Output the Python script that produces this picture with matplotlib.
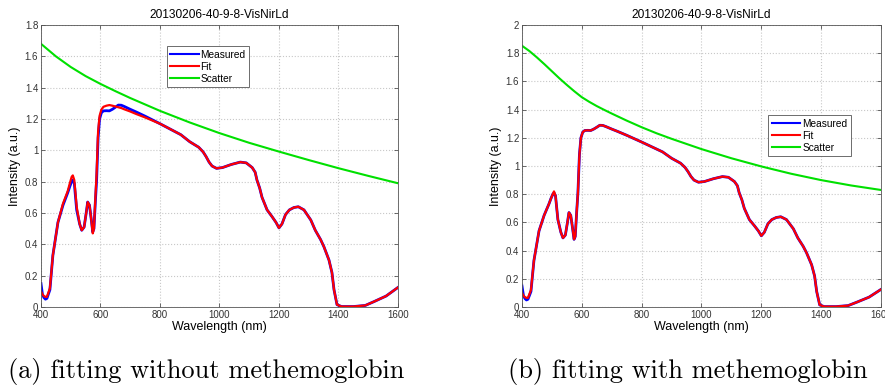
import numpy as np
import matplotlib.pyplot as plt
from matplotlib.ticker import FuncFormatter, MultipleLocator

# Measured spectrum (same sample in both panels)
wl = [400, 405, 410, 415, 420, 430, 440, 457, 474, 490, 497, 503, 507, 512,
      520, 530, 537, 545, 552, 557, 563, 569, 574, 578, 583, 587, 592, 597,
      603, 610, 620, 630, 640, 650, 660, 670, 680, 700, 720, 750, 800, 850,
      870, 900, 930, 945, 955, 965, 975, 990, 1010, 1040, 1070, 1090, 1110,
      1120, 1126, 1135, 1143, 1160, 1177, 1190, 1200, 1210, 1222, 1235, 1250,
      1265, 1284, 1307, 1322, 1340, 1351, 1368, 1378, 1385, 1395, 1410, 1450,
      1490, 1520, 1560, 1600]
measured = [0.15, 0.08, 0.06, 0.05, 0.055, 0.11, 0.33, 0.54, 0.65, 0.73, 0.77,
            0.80, 0.81, 0.79, 0.62, 0.53, 0.49, 0.51, 0.60, 0.67, 0.65, 0.56,
            0.48, 0.50, 0.68, 0.81, 1.08, 1.20, 1.24, 1.252, 1.253, 1.252,
            1.262, 1.275, 1.289, 1.288, 1.28, 1.262, 1.245, 1.218, 1.17, 1.12,
            1.10, 1.055, 1.02, 0.99, 0.96, 0.925, 0.90, 0.885, 0.89, 0.91,
            0.925, 0.92, 0.89, 0.86, 0.81, 0.76, 0.70, 0.62, 0.576, 0.54,
            0.505, 0.53, 0.59, 0.62, 0.635, 0.64, 0.62, 0.555, 0.49, 0.43,
            0.385, 0.30, 0.22, 0.11, 0.015, 0.003, 0.003, 0.01, 0.035, 0.07,
            0.125]

# Fit without methemoglobin
fit_a = [0.10, 0.08, 0.07, 0.065, 0.065, 0.12, 0.33, 0.54, 0.66, 0.74, 0.79,
         0.83, 0.84, 0.81, 0.64, 0.53, 0.49, 0.51, 0.60, 0.67, 0.65, 0.56,
         0.47, 0.50, 0.70, 0.85, 1.12, 1.22, 1.26, 1.278, 1.285, 1.289,
         1.285, 1.28, 1.275, 1.27, 1.262, 1.248, 1.232, 1.21, 1.17, 1.12,
         1.10, 1.055, 1.02, 0.99, 0.96, 0.925, 0.90, 0.885, 0.89, 0.91,
         0.925, 0.92, 0.89, 0.86, 0.81, 0.76, 0.70, 0.62, 0.576, 0.54,
         0.505, 0.53, 0.59, 0.62, 0.635, 0.64, 0.62, 0.555, 0.49, 0.43,
         0.385, 0.30, 0.22, 0.11, 0.015, 0.003, 0.003, 0.01, 0.035, 0.07,
         0.125]

# Fit with methemoglobin
fit_b = [0.10, 0.08, 0.07, 0.065, 0.065, 0.12, 0.33, 0.54, 0.65, 0.73, 0.77,
         0.80, 0.82, 0.79, 0.62, 0.53, 0.49, 0.51, 0.60, 0.67, 0.65, 0.56,
         0.48, 0.50, 0.68, 0.81, 1.08, 1.20, 1.24, 1.252, 1.253, 1.252,
         1.262, 1.275, 1.289, 1.288, 1.28, 1.262, 1.245, 1.218, 1.17, 1.12,
         1.10, 1.055, 1.02, 0.99, 0.96, 0.925, 0.90, 0.885, 0.89, 0.91,
         0.925, 0.92, 0.89, 0.86, 0.81, 0.76, 0.70, 0.62, 0.576, 0.54,
         0.505, 0.53, 0.59, 0.62, 0.635, 0.64, 0.62, 0.555, 0.49, 0.43,
         0.385, 0.30, 0.22, 0.11, 0.015, 0.003, 0.003, 0.01, 0.035, 0.07,
         0.125]

# Scatter contributions
wl_sc_a = [400, 450, 500, 550, 600, 650, 700, 800, 900, 1000, 1100, 1200,
           1300, 1400, 1500, 1600]
scatter_a = [1.68, 1.60, 1.532, 1.474, 1.424, 1.378, 1.334, 1.252, 1.178,
             1.110, 1.048, 0.992, 0.938, 0.886, 0.837, 0.79]
wl_sc_b = [400, 425, 450, 475, 500, 525, 550, 575, 600, 625, 650, 675, 700,
           750, 800, 850, 900, 1000, 1100, 1200, 1300, 1400, 1500, 1600]
scatter_b = [1.853, 1.815, 1.77, 1.722, 1.672, 1.622, 1.575, 1.53, 1.488,
             1.455, 1.425, 1.398, 1.372, 1.322, 1.275, 1.232, 1.193, 1.12,
             1.055, 0.997, 0.945, 0.90, 0.862, 0.83]

title = '20130206-40-9-8-VisNirLd'
captions = ['(a) fitting without methemoglobin', '(b) fitting with methemoglobin']

plt.rcParams['font.family'] = ['Liberation Sans', 'DejaVu Sans']


def draw_panel(ax, fit, wl_sc, scatter, ymax, legend_loc):
    ax.plot(wl, measured, color='#0000ff', lw=2.0, label='Measured')
    ax.plot(wl, fit, color='#ff0000', lw=1.6, label='Fit')
    ax.plot(wl_sc, scatter, color='#00e000', lw=1.5, label='Scatter')
    ax.set_xlim(400, 1600)
    ax.set_ylim(0, ymax)
    ax.xaxis.set_major_locator(MultipleLocator(200))
    ax.yaxis.set_major_locator(MultipleLocator(0.2))
    ax.yaxis.set_major_formatter(FuncFormatter(lambda v, p: '%g' % round(v, 2)))
    ax.grid(True, color='#c8c8c8', linestyle=':', linewidth=0.8)
    ax.tick_params(direction='in', labelsize=7, length=3, width=0.5,
                   top=True, right=True, colors='#333333', pad=2)
    for s in ax.spines.values():
        s.set_linewidth(0.6)
        s.set_color('#555555')
    ax.set_title(title, fontsize=8.6, pad=5)
    ax.set_xlabel('Wavelength (nm)', fontsize=9, labelpad=1)
    ax.set_ylabel('Intensity (a.u.)', fontsize=9, labelpad=3)
    leg = ax.legend(loc='upper left', bbox_to_anchor=legend_loc, fontsize=7.3,
                    fancybox=False, edgecolor='#555555', framealpha=1,
                    handlelength=2.8, handletextpad=0.2, borderpad=0.35,
                    labelspacing=0.2, borderaxespad=0)
    leg.get_frame().set_linewidth(0.6)
    for line in leg.get_lines():
        line.set_linewidth(1.5)


fig = plt.figure(figsize=(8.85, 3.92), dpi=100)
ax1 = fig.add_axes([0.0463, 0.2168, 0.4034, 0.7194])
ax2 = fig.add_axes([0.5898, 0.2168, 0.4057, 0.7194])
draw_panel(ax1, fit_a, wl_sc_a, scatter_a, 1.8, (0.352, 0.925))
draw_panel(ax2, fit_b, wl_sc_b, scatter_b, 2.0, (0.686, 0.68))

fig.text(0.233, 0.036, captions[0], family='cmr10', fontsize=19,
         ha='center', va='baseline')
fig.text(0.777, 0.036, captions[1], family='cmr10', fontsize=19,
         ha='center', va='baseline')

fig.savefig('out.png', dpi=100)
